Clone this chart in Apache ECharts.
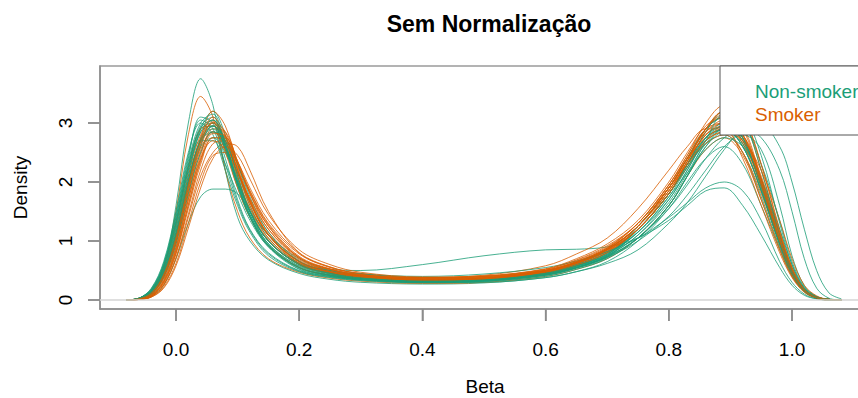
<!DOCTYPE html>
<html>
<head>
<meta charset="utf-8">
<script src="https://cdn.jsdelivr.net/npm/echarts@6/dist/echarts.min.js"></script>
<style>
  html, body { margin: 0; padding: 0; background: #fff; }
  #chart { width: 858px; height: 398px; }
</style>
</head>
<body>
<div id="chart"></div>
<script>
// grid of beta values where every density curve was read
const beta = [-0.08, -0.06, -0.04, -0.02, 0, 0.02, 0.04, 0.06, 0.08, 0.1, 0.12, 0.15, 0.2, 0.25, 0.3, 0.4, 0.5,
  0.6, 0.65, 0.7, 0.75, 0.8, 0.83, 0.86, 0.89, 0.92, 0.95, 0.98, 1.0, 1.02, 1.04, 1.06, 1.08];

const betaTicks = [0, 0.2, 0.4, 0.6, 0.8, 1.0];
const densityTicks = [0, 1, 2, 3];

// non-smoker samples
const ns01 = [0, 0.02, 0.12, 0.5, 1.6, 3.0, 3.75, 3.3, 2.2, 1.4, 1.0, 0.68, 0.45, 0.35, 0.3, 0.27, 0.29, 0.38, 0.48, 0.65, 1.0, 1.55, 2.0, 2.4, 2.6, 2.3, 1.6, 0.85, 0.4, 0.14, 0.03, 0, 0];
const ns02 = [0, 0.01, 0.06, 0.25, 0.7, 1.3, 1.75, 1.88, 1.88, 1.8, 1.5, 1.1, 0.7, 0.52, 0.5, 0.6, 0.75, 0.85, 0.86, 0.9, 1.05, 1.35, 1.6, 1.85, 1.9, 1.6, 1.1, 0.55, 0.25, 0.08, 0.02, 0, 0];
const ns03 = [0, 0.02, 0.12, 0.45, 1.1, 2.0, 2.7, 2.85, 2.55, 2.0, 1.5, 1.0, 0.6, 0.45, 0.37, 0.3, 0.3, 0.38, 0.48, 0.62, 0.85, 1.3, 1.65, 2.1, 2.55, 2.9, 2.95, 2.6, 2.0, 1.2, 0.5, 0.12, 0.02];
const ns04 = [0, 0.03, 0.16, 0.55, 1.3, 2.25, 2.9, 3.0, 2.55, 1.9, 1.4, 0.92, 0.55, 0.42, 0.35, 0.31, 0.33, 0.43, 0.55, 0.74, 1.05, 1.55, 1.95, 2.4, 2.75, 2.9, 2.75, 2.2, 1.5, 0.7, 0.2, 0.03, 0];
const ns05 = [0, 0.03, 0.18, 0.6, 1.4, 2.4, 3.1, 3.0, 2.4, 1.7, 1.2, 0.8, 0.5, 0.4, 0.35, 0.3, 0.33, 0.45, 0.58, 0.78, 1.2, 1.8, 2.3, 2.75, 2.9, 2.6, 1.85, 0.95, 0.45, 0.16, 0.04, 0.01, 0];
const ns06 = [0, 0.02, 0.12, 0.45, 1.1, 2.0, 2.75, 3.0, 2.7, 2.1, 1.5, 1.0, 0.6, 0.45, 0.38, 0.33, 0.35, 0.48, 0.62, 0.85, 1.25, 1.9, 2.4, 2.9, 3.1, 2.75, 1.95, 1.0, 0.5, 0.18, 0.05, 0.01, 0];
const ns07 = [0, 0.03, 0.16, 0.55, 1.3, 2.2, 2.9, 3.2, 2.8, 2.1, 1.5, 0.95, 0.55, 0.42, 0.36, 0.32, 0.35, 0.46, 0.6, 0.8, 1.2, 1.8, 2.25, 2.65, 2.8, 2.5, 1.75, 0.9, 0.42, 0.15, 0.04, 0, 0];
const ns08 = [0, 0.02, 0.1, 0.4, 1.0, 1.9, 2.6, 2.75, 2.5, 2.0, 1.55, 1.1, 0.65, 0.48, 0.4, 0.34, 0.36, 0.46, 0.58, 0.76, 1.1, 1.65, 2.15, 2.65, 2.9, 2.75, 2.05, 1.1, 0.5, 0.17, 0.04, 0.01, 0];
const ns09 = [0, 0.03, 0.2, 0.65, 1.5, 2.5, 3.0, 2.8, 2.2, 1.6, 1.15, 0.75, 0.48, 0.38, 0.33, 0.29, 0.31, 0.4, 0.52, 0.7, 1.05, 1.6, 2.1, 2.6, 2.9, 2.9, 2.3, 1.35, 0.65, 0.22, 0.06, 0.01, 0];
const ns10 = [0, 0.02, 0.14, 0.5, 1.2, 2.1, 2.7, 2.7, 2.3, 1.8, 1.35, 0.9, 0.55, 0.42, 0.36, 0.31, 0.33, 0.44, 0.57, 0.76, 1.25, 1.9, 2.4, 2.9, 3.1, 2.75, 1.95, 1.0, 0.5, 0.18, 0.05, 0.01, 0];
const ns11 = [0, 0.03, 0.17, 0.58, 1.35, 2.3, 2.95, 3.1, 2.6, 1.95, 1.4, 0.9, 0.52, 0.4, 0.34, 0.3, 0.32, 0.42, 0.54, 0.72, 1.2, 1.8, 2.3, 2.75, 2.9, 2.6, 1.85, 0.95, 0.45, 0.16, 0.04, 0.01, 0];
const ns12 = [0, 0.02, 0.1, 0.38, 0.95, 1.8, 2.5, 2.85, 2.75, 2.3, 1.75, 1.15, 0.66, 0.48, 0.4, 0.34, 0.36, 0.47, 0.6, 0.8, 1.15, 1.75, 2.15, 2.55, 2.75, 2.6, 2.05, 1.2, 0.6, 0.2, 0.05, 0.01, 0];
const ns13 = [0, 0.03, 0.15, 0.52, 1.25, 2.2, 2.85, 2.95, 2.55, 1.95, 1.45, 0.95, 0.58, 0.44, 0.37, 0.32, 0.34, 0.44, 0.56, 0.74, 1.2, 1.8, 2.3, 2.85, 3.2, 3.05, 2.2, 1.1, 0.5, 0.16, 0.04, 0.01, 0];
const ns14 = [0, 0.02, 0.13, 0.48, 1.15, 2.05, 2.7, 2.9, 2.6, 2.0, 1.5, 1.0, 0.62, 0.5, 0.44, 0.4, 0.44, 0.55, 0.66, 0.82, 1.05, 1.4, 1.65, 1.9, 2.0, 1.85, 1.35, 0.65, 0.3, 0.1, 0.02, 0, 0];
const ns15 = [0, 0.02, 0.14, 0.5, 1.22, 2.15, 2.85, 3.05, 2.65, 2.0, 1.45, 0.95, 0.57, 0.43, 0.36, 0.31, 0.33, 0.43, 0.55, 0.73, 1.05, 1.6, 2.1, 2.6, 2.85, 2.65, 2.0, 1.05, 0.5, 0.17, 0.04, 0.01, 0];
const ns16 = [0, 0.03, 0.19, 0.62, 1.45, 2.45, 3.05, 2.9, 2.3, 1.65, 1.18, 0.78, 0.49, 0.39, 0.34, 0.3, 0.32, 0.42, 0.55, 0.75, 1.1, 1.7, 2.2, 2.75, 3.0, 2.75, 1.9, 0.95, 0.45, 0.15, 0.04, 0, 0];
const ns17 = [0, 0.02, 0.11, 0.42, 1.05, 1.95, 2.65, 2.95, 2.7, 2.15, 1.6, 1.05, 0.62, 0.46, 0.38, 0.32, 0.34, 0.45, 0.57, 0.77, 1.15, 1.75, 2.25, 2.75, 2.95, 2.7, 1.95, 1.0, 0.47, 0.16, 0.04, 0, 0];
const ns18 = [0, 0.03, 0.16, 0.56, 1.32, 2.28, 2.92, 3.05, 2.6, 1.95, 1.42, 0.92, 0.55, 0.42, 0.36, 0.31, 0.33, 0.43, 0.55, 0.72, 1.0, 1.42, 1.78, 2.2, 2.6, 2.8, 2.55, 1.6, 0.75, 0.24, 0.06, 0.01, 0];
const ns19 = [0, 0.02, 0.13, 0.47, 1.12, 2.02, 2.72, 2.95, 2.6, 2.05, 1.52, 1.0, 0.6, 0.45, 0.37, 0.32, 0.34, 0.45, 0.58, 0.78, 1.15, 1.7, 2.2, 2.7, 2.9, 2.6, 1.85, 0.95, 0.45, 0.15, 0.04, 0, 0];
const ns20 = [0, 0.03, 0.17, 0.6, 1.4, 2.35, 3.0, 3.15, 2.65, 1.98, 1.42, 0.92, 0.53, 0.41, 0.35, 0.3, 0.32, 0.42, 0.54, 0.73, 1.05, 1.6, 2.1, 2.7, 3.15, 3.1, 2.45, 1.3, 0.6, 0.2, 0.05, 0.01, 0];

// smoker samples
const sm01 = [0, 0.03, 0.15, 0.55, 1.5, 2.8, 3.45, 3.1, 2.2, 1.5, 1.05, 0.7, 0.47, 0.37, 0.32, 0.28, 0.3, 0.4, 0.52, 0.7, 1.05, 1.6, 2.1, 2.55, 2.75, 2.45, 1.7, 0.88, 0.42, 0.15, 0.04, 0, 0];
const sm02 = [0, 0.01, 0.06, 0.25, 0.7, 1.4, 2.1, 2.5, 2.65, 2.6, 2.2, 1.5, 0.8, 0.55, 0.45, 0.38, 0.4, 0.5, 0.63, 0.82, 1.2, 1.8, 2.3, 2.85, 3.2, 3.05, 2.2, 1.1, 0.5, 0.16, 0.04, 0.01, 0];
const sm03 = [0, 0.02, 0.1, 0.4, 1.0, 1.85, 2.6, 2.95, 2.75, 2.2, 1.65, 1.1, 0.65, 0.48, 0.4, 0.35, 0.37, 0.5, 0.65, 0.88, 1.3, 1.95, 2.45, 2.9, 3.0, 2.65, 1.85, 0.95, 0.45, 0.15, 0.04, 0, 0];
const sm04 = [0, 0.01, 0.07, 0.3, 0.8, 1.6, 2.35, 2.75, 2.7, 2.3, 1.8, 1.25, 0.72, 0.52, 0.42, 0.36, 0.38, 0.5, 0.64, 0.86, 1.25, 1.85, 2.35, 2.8, 2.95, 2.7, 1.95, 1.0, 0.47, 0.16, 0.04, 0, 0];
const sm05 = [0, 0.02, 0.12, 0.45, 1.1, 2.0, 2.7, 3.0, 2.65, 2.05, 1.5, 1.0, 0.6, 0.46, 0.38, 0.33, 0.35, 0.47, 0.61, 0.83, 1.2, 1.8, 2.3, 2.8, 2.95, 2.75, 2.05, 1.1, 0.5, 0.17, 0.04, 0.01, 0];
const sm06 = [0, 0.01, 0.05, 0.22, 0.62, 1.3, 2.0, 2.45, 2.5, 2.25, 1.85, 1.3, 0.78, 0.56, 0.45, 0.38, 0.4, 0.52, 0.68, 0.92, 1.3, 1.95, 2.45, 3.0, 3.3, 3.1, 2.3, 1.2, 0.55, 0.18, 0.05, 0.01, 0];
const sm07 = [0, 0.02, 0.11, 0.42, 1.05, 1.95, 2.75, 3.2, 2.95, 2.3, 1.7, 1.1, 0.62, 0.46, 0.38, 0.33, 0.35, 0.46, 0.6, 0.82, 1.25, 1.9, 2.4, 2.85, 3.0, 2.7, 1.9, 0.95, 0.45, 0.15, 0.04, 0, 0];
const sm08 = [0, 0.02, 0.09, 0.35, 0.9, 1.75, 2.5, 2.85, 2.7, 2.2, 1.7, 1.15, 0.68, 0.5, 0.41, 0.35, 0.37, 0.49, 0.63, 0.86, 1.25, 1.9, 2.4, 2.9, 3.1, 2.75, 1.95, 1.0, 0.5, 0.18, 0.05, 0.01, 0];
const sm09 = [0, 0.01, 0.06, 0.26, 0.72, 1.45, 2.2, 2.65, 2.7, 2.35, 1.9, 1.35, 0.8, 0.56, 0.44, 0.37, 0.39, 0.5, 0.64, 0.86, 1.25, 1.85, 2.3, 2.65, 2.8, 2.5, 1.8, 0.95, 0.45, 0.16, 0.04, 0, 0];
const sm10 = [0, 0.03, 0.16, 0.55, 1.3, 2.25, 2.9, 2.95, 2.5, 1.9, 1.4, 0.92, 0.55, 0.42, 0.36, 0.31, 0.33, 0.44, 0.58, 0.8, 1.2, 1.8, 2.3, 2.7, 2.85, 2.5, 1.7, 0.85, 0.4, 0.14, 0.03, 0, 0];
const sm11 = [0, 0.02, 0.1, 0.38, 0.95, 1.8, 2.55, 2.85, 2.65, 2.15, 1.65, 1.1, 0.66, 0.5, 0.42, 0.38, 0.42, 0.58, 0.78, 1.05, 1.55, 2.2, 2.6, 2.9, 2.9, 2.4, 1.6, 0.8, 0.38, 0.13, 0.03, 0, 0];
const sm12 = [0, 0.02, 0.08, 0.32, 0.85, 1.7, 2.45, 2.9, 2.85, 2.35, 1.8, 1.2, 0.7, 0.5, 0.41, 0.35, 0.37, 0.48, 0.62, 0.84, 1.2, 1.8, 2.25, 2.7, 2.95, 2.8, 2.1, 1.15, 0.55, 0.18, 0.05, 0.01, 0];
const sm13 = [0, 0.02, 0.13, 0.48, 1.15, 2.1, 2.8, 3.05, 2.7, 2.1, 1.55, 1.02, 0.6, 0.45, 0.37, 0.32, 0.34, 0.45, 0.59, 0.8, 1.2, 1.8, 2.35, 2.9, 3.2, 2.95, 2.05, 1.0, 0.47, 0.16, 0.04, 0, 0];
const sm14 = [0, 0.01, 0.08, 0.33, 0.88, 1.7, 2.4, 2.7, 2.55, 2.15, 1.72, 1.2, 0.72, 0.52, 0.43, 0.37, 0.4, 0.52, 0.67, 0.9, 1.3, 1.95, 2.4, 2.75, 2.9, 2.65, 1.95, 1.1, 0.55, 0.19, 0.05, 0.01, 0];
const sm15 = [0, 0.01, 0.07, 0.28, 0.78, 1.55, 2.3, 2.75, 2.75, 2.35, 1.85, 1.28, 0.74, 0.53, 0.43, 0.36, 0.38, 0.5, 0.65, 0.88, 1.25, 1.9, 2.35, 2.8, 3.0, 2.8, 2.05, 1.05, 0.48, 0.16, 0.04, 0, 0];
const sm16 = [0, 0.02, 0.1, 0.38, 0.98, 1.85, 2.62, 3.02, 2.85, 2.25, 1.68, 1.12, 0.65, 0.48, 0.4, 0.34, 0.36, 0.48, 0.63, 0.86, 1.25, 1.9, 2.4, 2.85, 3.05, 2.8, 2.0, 1.0, 0.46, 0.15, 0.04, 0, 0];
const sm17 = [0, 0.01, 0.05, 0.2, 0.58, 1.22, 1.9, 2.4, 2.6, 2.45, 2.05, 1.45, 0.85, 0.6, 0.47, 0.39, 0.41, 0.53, 0.7, 0.95, 1.35, 2.0, 2.5, 2.95, 3.1, 2.8, 1.95, 0.98, 0.45, 0.15, 0.04, 0, 0];
const sm18 = [0, 0.02, 0.12, 0.44, 1.08, 1.98, 2.72, 3.1, 2.8, 2.2, 1.6, 1.05, 0.62, 0.47, 0.39, 0.34, 0.36, 0.47, 0.62, 0.85, 1.25, 1.9, 2.4, 2.9, 3.15, 2.9, 2.0, 1.0, 0.45, 0.15, 0.04, 0, 0];
const sm19 = [0, 0.01, 0.08, 0.3, 0.82, 1.62, 2.38, 2.82, 2.78, 2.32, 1.82, 1.25, 0.72, 0.52, 0.42, 0.36, 0.38, 0.5, 0.65, 0.88, 1.3, 1.9, 2.3, 2.7, 2.85, 2.7, 2.2, 1.35, 0.7, 0.25, 0.07, 0.01, 0];
const sm20 = [0, 0.02, 0.11, 0.41, 1.02, 1.92, 2.68, 3.0, 2.78, 2.2, 1.66, 1.1, 0.64, 0.48, 0.4, 0.34, 0.36, 0.48, 0.62, 0.85, 1.2, 1.85, 2.35, 2.9, 3.2, 3.1, 2.3, 1.15, 0.52, 0.17, 0.04, 0.01, 0];

const nonSmokerCurves = [ns01, ns02, ns03, ns04, ns05, ns06, ns07, ns08, ns09, ns10,
  ns11, ns12, ns13, ns14, ns15, ns16, ns17, ns18, ns19, ns20];
const smokerCurves = [sm01, sm02, sm03, sm04, sm05, sm06, sm07, sm08, sm09, sm10,
  sm11, sm12, sm13, sm14, sm15, sm16, sm17, sm18, sm19, sm20];

const GREEN = '#1B9E77';
const ORANGE = '#D95F02';
const FONT = "'Liberation Sans', Arial, sans-serif";
const AXIS_GRAY = '#8c8c8c';
const X_MIN = -0.1234, X_MAX = 1.1266;
const Y_MIN = -0.1525, Y_MAX = 3.966;

function curveSeries(name, color, ys) {
  return {
    name: name,
    type: 'line',
    data: beta.map((b, i) => [b, ys[i]]),
    showSymbol: false,
    smooth: 0.35,
    silent: true,
    lineStyle: { color: color, width: 1, opacity: 0.8 },
    itemStyle: { color: color }
  };
}

// draw the two groups interleaved, as in the original plot
const series = [];
for (let i = 0; i < nonSmokerCurves.length; i++) {
  series.push(curveSeries('Non-smoker', GREEN, nonSmokerCurves[i]));
  series.push(curveSeries('Smoker', ORANGE, smokerCurves[i]));
}
// gray zero line
series[0].markLine = {
  silent: true,
  symbol: ['none', 'none'],
  label: { show: false },
  lineStyle: { color: '#d4d4d4', width: 1.5, type: 'solid' },
  data: [{ yAxis: 0 }]
};

const chart = echarts.init(document.getElementById('chart'), null, { renderer: 'svg' });
chart.setOption({
  animation: false,
  backgroundColor: '#fff',
  title: {
    text: 'Sem Normalização',
    left: 484,
    top: 7,
    textAlign: 'center',
    textStyle: { fontFamily: FONT, fontSize: 23, fontWeight: 'bold', color: '#000' }
  },
  legend: {
    left: 720,
    top: 66,
    orient: 'vertical',
    icon: 'none',
    itemWidth: 0,
    itemHeight: 14,
    itemGap: 4,
    selectedMode: false,
    padding: [16, 40, 11, 30],
    backgroundColor: '#fff',
    borderColor: '#555',
    borderWidth: 1,
    borderRadius: 0,
    textStyle: { fontFamily: FONT, fontSize: 19 },
    data: [
      { name: 'Non-smoker', textStyle: { color: GREEN } },
      { name: 'Smoker', textStyle: { color: ORANGE } }
    ]
  },
  grid: {
    left: 100,
    top: 66,
    width: 770,
    height: 243,
    outerBoundsMode: 'none',
    show: true,
    borderColor: '#9a9a9a',
    borderWidth: 1.5
  },
  xAxis: {
    type: 'value',
    min: X_MIN,
    max: X_MAX,
    name: 'Beta',
    nameLocation: 'middle',
    nameGap: 68,
    nameTextStyle: { fontFamily: FONT, fontSize: 19, color: '#000' },
    axisLine: { show: true, onZero: false, lineStyle: { color: AXIS_GRAY, width: 1.5 } },
    splitLine: { show: false },
    axisTick: { show: true, length: 12, customValues: betaTicks, lineStyle: { color: AXIS_GRAY, width: 1.5 } },
    axisLabel: { margin: 31, fontSize: 19, color: '#000', fontFamily: FONT, customValues: betaTicks,
      formatter: v => v.toFixed(1) }
  },
  yAxis: {
    type: 'value',
    min: Y_MIN,
    max: Y_MAX,
    name: 'Density',
    nameLocation: 'middle',
    nameRotate: 90,
    nameGap: 70,
    nameTextStyle: { fontFamily: FONT, fontSize: 19, color: '#000' },
    axisLine: { show: true, onZero: false, lineStyle: { color: AXIS_GRAY, width: 1.5 } },
    splitLine: { show: false },
    axisTick: { show: true, length: 12, customValues: densityTicks, lineStyle: { color: AXIS_GRAY, width: 1.5 } },
    axisLabel: { margin: 25, rotate: 90, align: 'center', fontSize: 19, color: '#000', fontFamily: FONT, customValues: densityTicks }
  },
  series: series
});

// outer tick marks, placed through the axes' own scales
const bottomY = chart.convertToPixel({ yAxisIndex: 0 }, Y_MIN);
const leftX = chart.convertToPixel({ xAxisIndex: 0 }, X_MIN);
const tickMarks = [];
betaTicks.forEach(v => {
  const px = chart.convertToPixel({ xAxisIndex: 0 }, v);
  tickMarks.push({ type: 'line', silent: true, shape: { x1: px, y1: bottomY, x2: px, y2: bottomY + 12 },
    style: { stroke: AXIS_GRAY, lineWidth: 1.5 } });
});
densityTicks.forEach(v => {
  const py = chart.convertToPixel({ yAxisIndex: 0 }, v);
  tickMarks.push({ type: 'line', silent: true, shape: { x1: leftX - 12, y1: py, x2: leftX, y2: py },
    style: { stroke: AXIS_GRAY, lineWidth: 1.5 } });
});
chart.setOption({ graphic: tickMarks });
</script>
</body>
</html>
